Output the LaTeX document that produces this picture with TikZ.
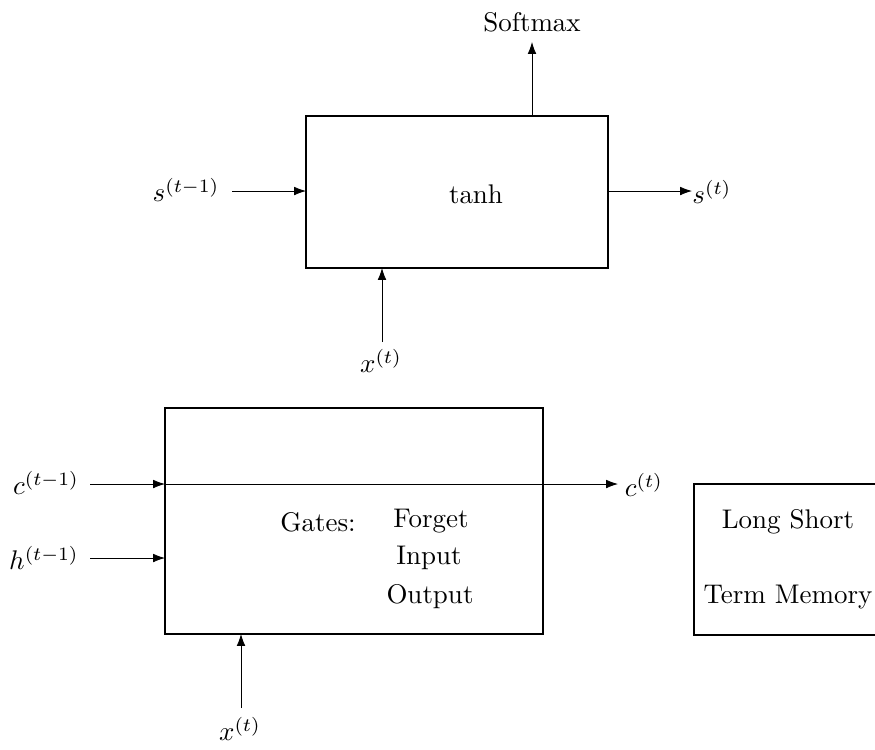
\documentclass[tikz,border=0pt]{standalone}
\usetikzlibrary{arrows.meta}
\begin{document}
\begin{tikzpicture}[x=0.3706pt,y=-0.3706pt,
  block/.style={draw,line width=0.8pt},
  flow/.style={-{Latex[length=4.4pt,width=3.2pt]},line width=0.3pt},
  lbl/.style={inner sep=0pt}]
\useasboundingbox (0,0) rectangle (875,749);

% recurrent cell
\draw[block] (306,116) rectangle (608,268);
\node[lbl] (tanh) at (476,194) {tanh};
\coordinate (rnnW) at (306,191);
\coordinate (rnnE) at (608,191);
\coordinate (rnnN) at (532,116);
\coordinate (rnnS) at (382,268);
\node[lbl] (sprev) at (186,190) {$s^{(t-1)}$};
\node[lbl] (snext) at (712,192) {$s^{(t)}$};
\node[lbl] (soft) at (532,22) {Softmax};
\node[lbl] (xtop) at (381,361) {$x^{(t)}$};
\coordinate (sprevEnd) at (232,191);
\coordinate (snextEnd) at (692,191);
\coordinate (softEnd) at (532,42);
\coordinate (xtopEnd) at (382,342);
\draw[flow] (sprevEnd) -- (rnnW);
\draw[flow] (rnnE) -- (snextEnd);
\draw[flow] (rnnN) -- (softEnd);
\draw[flow] (xtopEnd) -- (rnnS);

% gated cell
\draw[block] (165,408) rectangle (543,634);
\coordinate (cIn) at (165,484);
\coordinate (hIn) at (165,558);
\coordinate (lstmS) at (241,634);
\node[lbl] (cprev) at (46,483) {$c^{(t-1)}$};
\node[lbl] (hprev) at (44,558) {$h^{(t-1)}$};
\node[lbl] (cnext) at (644,485) {$c^{(t)}$};
\node[lbl] (xbot) at (240,729) {$x^{(t)}$};
\coordinate (cprevEnd) at (90,484);
\coordinate (hprevEnd) at (90,558);
\coordinate (cnextEnd) at (618,484);
\coordinate (xbotEnd) at (241,708);
\draw[flow] (cprevEnd) -- (cIn);
\draw[flow] (cIn) -- (cnextEnd);
\draw[flow] (hprevEnd) -- (hIn);
\draw[flow] (xbotEnd) -- (lstmS);
\node[lbl] (gates) at (318,522) {Gates:};
\node[lbl] (forget) at (431,521) {Forget};
\node[lbl] (input) at (429,558) {Input};
\node[lbl] (output) at (430,597) {Output};

% caption box
\draw[block] (694,484) rectangle (895,635);
\node[lbl] (long) at (788,522) {Long Short};
\node[lbl] (term) at (788,597) {Term Memory};
\end{tikzpicture}
\end{document}
